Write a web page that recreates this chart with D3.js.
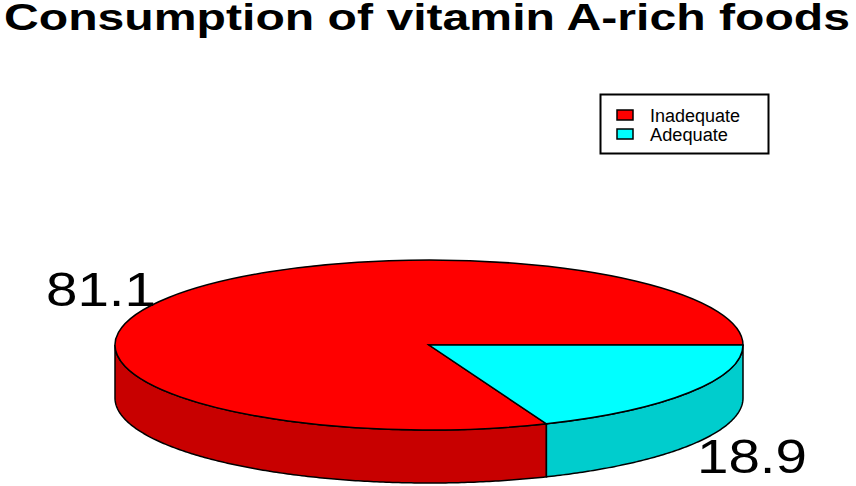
<!DOCTYPE html>
<html lang="en">
<head>
    <meta charset="UTF-8">
    <title>Consumption of vitamin A-rich foods</title>
    <script src="https://d3js.org/d3.v7.min.js"></script>
    <style>
        html, body { margin: 0; padding: 0; background: white; }
        svg { display: block; }
        text { font-family: "Liberation Sans", Arial, sans-serif; fill: #000; }
        .title { font-weight: bold; }
    </style>
</head>
<body>
    <div id="chart"></div>

    <script>
    // Data
    const categories = ['Inadequate', 'Adequate'];
    const percentages = [81.1, 18.9];
    const topColors = ['#ff0000', '#00ffff'];
    const sideColors = ['#c80000', '#00cdcd'];

    const width = 856;
    const height = 486;

    // Pie geometry
    const cx = 429, cy = 345;
    const rx = 314, ry = 85;
    const depth = 53;

    const svg = d3.select('#chart')
        .append('svg')
        .attr('width', width)
        .attr('height', height);

    // Title
    svg.append('text')
        .attr('class', 'title')
        .attr('x', 4)
        .attr('y', 30)
        .attr('font-size', 37)
        .attr('textLength', 846)
        .attr('lengthAdjust', 'spacingAndGlyphs')
        .text('Consumption of vitamin A-rich foods');

    // Slices start at 3 o'clock and go clockwise, smallest first
    const slices = d3.pie()
        .value(d => d.value)
        .sort((a, b) => a.value - b.value)
        .startAngle(Math.PI / 2)
        .endAngle(Math.PI / 2 + 2 * Math.PI)(
            categories.map((name, i) => ({ name, value: percentages[i], index: i }))
        );

    // Position on the tilted rim for a d3 pie angle
    const rimX = a => cx + rx * Math.sin(a);
    const rimY = a => cy - ry * Math.cos(a);

    // Side walls, only the front half of the rim shows
    const wall = d3.area()
        .x(rimX)
        .y0(rimY)
        .y1(a => rimY(a) + depth);

    slices.forEach(s => {
        const from = Math.max(s.startAngle, Math.PI / 2);
        const to = Math.min(s.endAngle, 3 * Math.PI / 2);
        if (from >= to) return;
        const angles = d3.range(from, to, 0.01).concat([to]);
        svg.append('path')
            .attr('d', wall(angles))
            .attr('fill', sideColors[s.data.index])
            .attr('stroke', '#000')
            .attr('stroke-width', 1.5);
    });

    // Top of the pie, a flat arc squashed into an ellipse
    const arc = d3.arc().innerRadius(0).outerRadius(rx);

    svg.append('g')
        .attr('transform', `translate(${cx},${cy}) scale(1,${ry / rx})`)
        .selectAll('path')
        .data(slices)
        .enter()
        .append('path')
        .attr('d', arc)
        .attr('fill', d => topColors[d.data.index])
        .attr('stroke', '#000')
        .attr('stroke-width', 1.5)
        .attr('vector-effect', 'non-scaling-stroke');

    // Value labels
    const valueLabels = [
        { index: 0, x: 46, y: 306 },
        { index: 1, x: 697, y: 473 }
    ];

    svg.selectAll('.value')
        .data(valueLabels)
        .enter()
        .append('text')
        .attr('class', 'value')
        .attr('x', d => d.x)
        .attr('y', d => d.y)
        .attr('font-size', 48)
        .attr('textLength', 110)
        .attr('lengthAdjust', 'spacingAndGlyphs')
        .text(d => percentages[d.index]);

    // Legend
    svg.append('rect')
        .attr('x', 600.5)
        .attr('y', 94.5)
        .attr('width', 168)
        .attr('height', 59)
        .attr('fill', 'white')
        .attr('stroke', '#000')
        .attr('stroke-width', 2);

    const legendY = d3.scalePoint()
        .domain(categories)
        .range([115, 134]);

    const legendWidths = [90, 78];

    const legend = svg.selectAll('.legend')
        .data(categories)
        .enter()
        .append('g')
        .attr('class', 'legend');

    legend.append('rect')
        .attr('x', 617)
        .attr('y', d => legendY(d) - 5)
        .attr('width', 16)
        .attr('height', 10)
        .attr('fill', (d, i) => topColors[i])
        .attr('stroke', '#000')
        .attr('stroke-width', 1.5);

    legend.append('text')
        .attr('x', 650)
        .attr('y', d => legendY(d) + 7)
        .attr('font-size', 18)
        .attr('textLength', (d, i) => legendWidths[i])
        .attr('lengthAdjust', 'spacingAndGlyphs')
        .text(d => d);
    </script>
</body>
</html>
